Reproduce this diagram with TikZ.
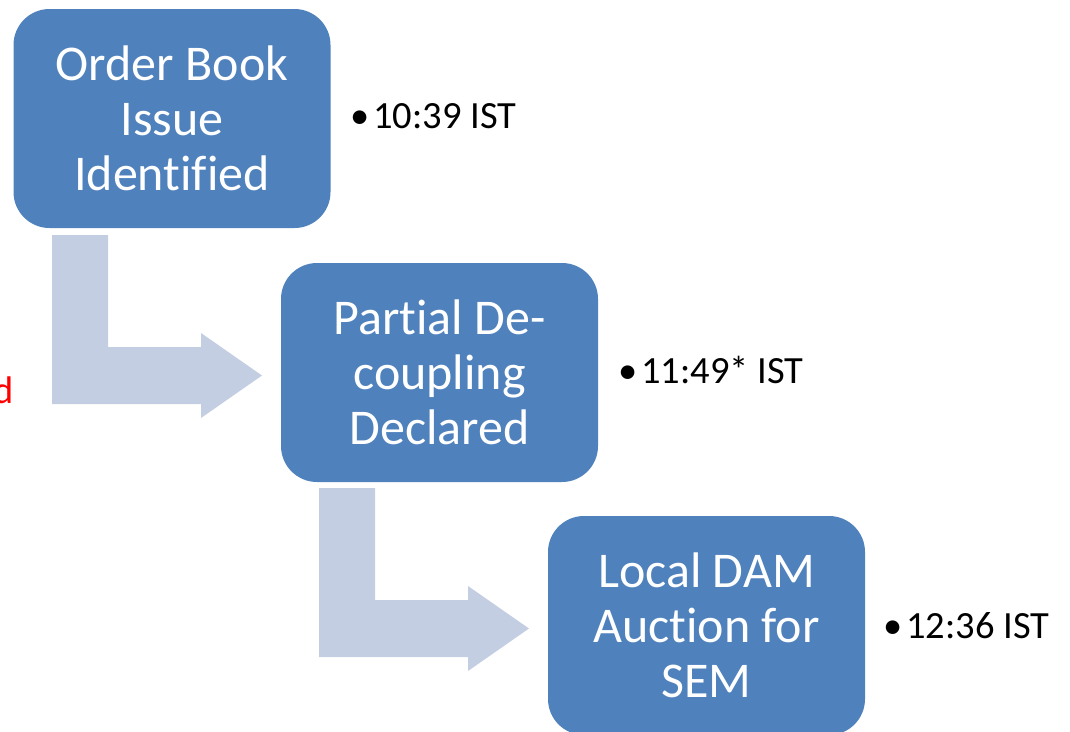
\documentclass[tikz,border=0pt]{standalone}
\usepackage{fontspec}
\setmainfont{Carlito}[Ligatures=NoCommon]
\definecolor{boxblue}{HTML}{4F81BD}
\definecolor{arrowgray}{HTML}{C4CEE2}
\tikzset{
  stagebox/.style={fill=boxblue, draw=none, rounded corners=36pt, minimum width=317pt, minimum height=219pt,
    align=center, text=white, font=\fontsize{50}{55}\selectfont, inner sep=0pt},
  timelabel/.style={anchor=base west, inner sep=0pt, font=\fontsize{38.5}{44}\selectfont},
  bentarrow/.style={fill=arrowgray, draw=none}
}
\begin{document}
\begin{tikzpicture}[x=1pt, y=-1pt]
\useasboundingbox (0,0) rectangle (1070,731);
% bent arrows
\fill[bentarrow] (52,235) -- (108,235) -- (108,347) -- (201,347) -- (201,333) -- (262,375.5) -- (201,418) -- (201,404) -- (52,404) -- cycle;
\fill[bentarrow] (319,488) -- (375,488) -- (375,600) -- (468,600) -- (468,586) -- (529,628.5) -- (468,671) -- (468,657) -- (319,657) -- cycle;
% boxes
\node[stagebox] (b1) at (172,118.5) {Order Book\\Issue\\Identified};
\node[stagebox] (b2) at (439.5,372.5) {Partial De-\\coupling\\Declared};
\node[stagebox] (b3) at (706.5,625.5) {Local DAM\\Auction for\\SEM};
% time labels
\node[timelabel] (t1) at (350,128) {•\hspace{4pt}10:39 IST};
\node[timelabel] (t2) at (618,383) {•\hspace{4pt}11:49* IST};
\node[timelabel] (t3) at (883,638) {•\hspace{4pt}12:36 IST};
% cut-off red text
\node[anchor=base east, inner sep=0pt, text=red, font=\fontsize{38.5}{44}\selectfont] (r) at (14,403) {d};
\end{tikzpicture}
\end{document}
